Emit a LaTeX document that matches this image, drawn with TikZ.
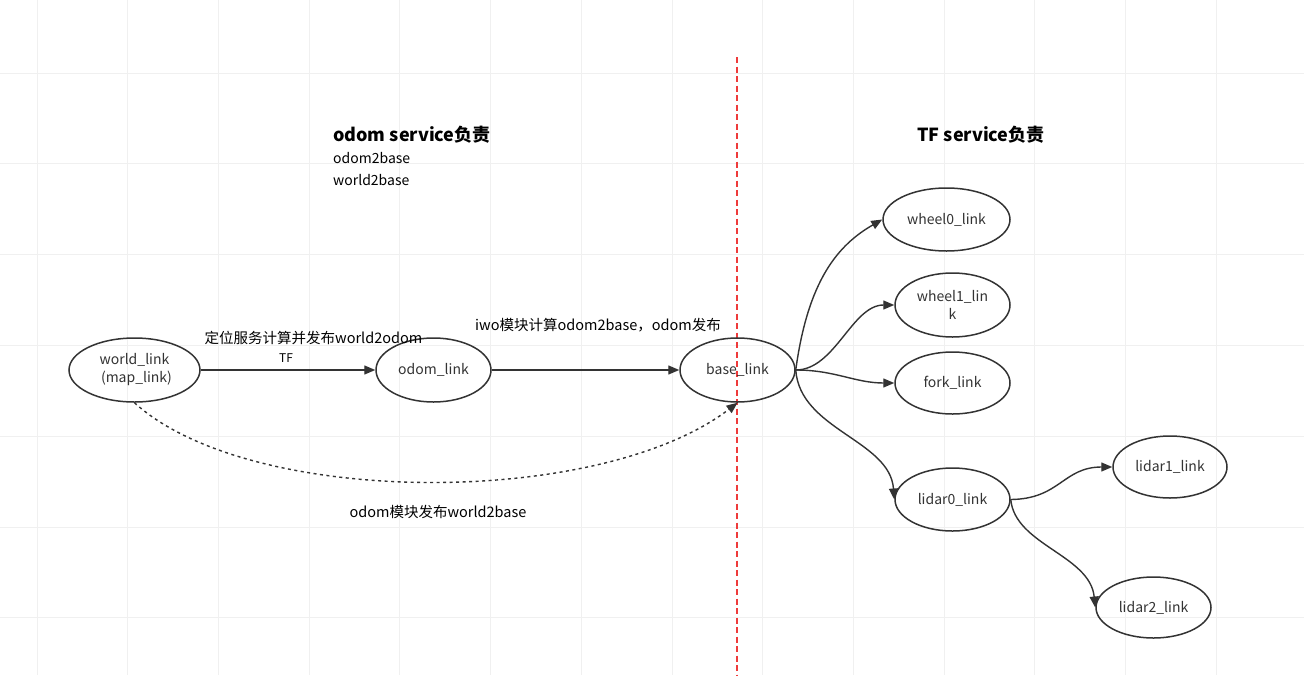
\documentclass[tikz,border=0pt]{standalone}
\usepackage{fontspec}
\setmainfont{Noto Sans CJK SC}
\usetikzlibrary{arrows.meta,shapes.geometric}
\definecolor{ink}{HTML}{333333}
\definecolor{gridc}{HTML}{F0F0F0}
\definecolor{redline}{HTML}{EE3B3B}
\tikzset{
  link/.style={ellipse, draw=ink, line width=1.5pt, inner sep=0pt, text=ink,
    font=\fontsize{14}{18}\selectfont, align=center},
  conn/.style={draw=ink, line width=1.4pt, -{Triangle[length=11pt,width=9pt]}},
  dotconn/.style={conn, dash pattern=on 3pt off 3.5pt},
  lbl/.style={text=black, font=\fontsize{14.5}{18}\selectfont, inner sep=0pt},
  ttl/.style={text=black, font=\fontsize{18}{21}\bfseries, inner sep=0pt},
}
\begin{document}
\begin{tikzpicture}[x=1pt,y=-1pt]
\useasboundingbox (0,0) rectangle (1304,675);
\fill[white] (0,0) rectangle (1304,675);
% faint grid
\foreach \i in {0,...,14} { \draw[gridc, line width=0.8pt] ({37+90.7*\i},0) -- ({37+90.7*\i},675); }
\foreach \j in {0,...,6} { \draw[gridc, line width=0.8pt] (0,{73+90.8*\j}) -- (1304,{73+90.8*\j}); }
% divider
\coordinate (dtop) at (737,57);
\coordinate (dbot) at (737,675);
\draw[redline, line width=1.5pt, dash pattern=on 6pt off 3.5pt] (dtop) -- (dbot);
% titles
\node[ttl, anchor=west] (t1) at (333,135) {odom service负责};
\node[lbl, anchor=west, font=\fontsize{14}{18}\selectfont] (t1a) at (333,158) {odom2base};
\node[lbl, anchor=west, font=\fontsize{14}{18}\selectfont] (t1b) at (333,180) {world2base};
\node[ttl] (t2) at (981,135) {TF service负责};
% nodes
\node[link, minimum width=131pt, minimum height=64pt] (world) at (134.5,370) {world\_link\\\hspace*{4pt}(map\_link)};
\node[link, minimum width=115pt, minimum height=64pt] (odom) at (433.5,370) {odom\_link};
\node[link, minimum width=115pt, minimum height=64pt] (base) at (737.5,370) {base\_link};
\node[link, minimum width=127pt, minimum height=63pt] (w0) at (946.5,219.5) {wheel0\_link};
\node[link, minimum width=115pt, minimum height=64pt] (w1) at (952.5,305) {wheel1\_lin\\k};
\node[link, minimum width=115pt, minimum height=62pt] (fork) at (952.5,383) {fork\_link};
\node[link, minimum width=115pt, minimum height=63pt] (l0) at (952.5,499.5) {lidar0\_link};
\node[link, minimum width=114pt, minimum height=62pt] (l1) at (1170,467) {lidar1\_link};
\node[link, minimum width=115pt, minimum height=61pt] (l2) at (1153.5,607.5) {lidar2\_link};
% edge labels
\node[lbl] (e1a) at (313.5,338) {定位服务计算并发布world2odom};
\node[lbl, font=\fontsize{12}{14}\selectfont] (e1b) at (286,358) {TF};
\node[lbl] (e2) at (598,325) {iwo模块计算odom2base，odom发布};
\node[lbl] (e3) at (438,512) {odom模块发布world2base};
% connectors
\draw[conn] (world.east) -- (odom.west);
\draw[conn] (odom.east) -- (base.west);
\draw[dotconn] (world.south) .. controls (250,508) and (600,508) .. (base.south);
\draw[conn] (base.east) .. controls (808,280) and (838,245) .. (w0.west);
\draw[conn] (base.east) .. controls (835,370) and (852,305) .. (w1.west);
\draw[conn] (base.east) .. controls (835,370) and (855,383) .. (fork.west);
\draw[conn] (base.east) .. controls (800,430) and (890,440) .. (l0.west);
\draw[conn] (l0.east) .. controls (1060,499) and (1063,467) .. (l1.west);
\draw[conn] (l0.east) .. controls (1015,545) and (1090,555) .. (l2.west);
\end{tikzpicture}
\end{document}
